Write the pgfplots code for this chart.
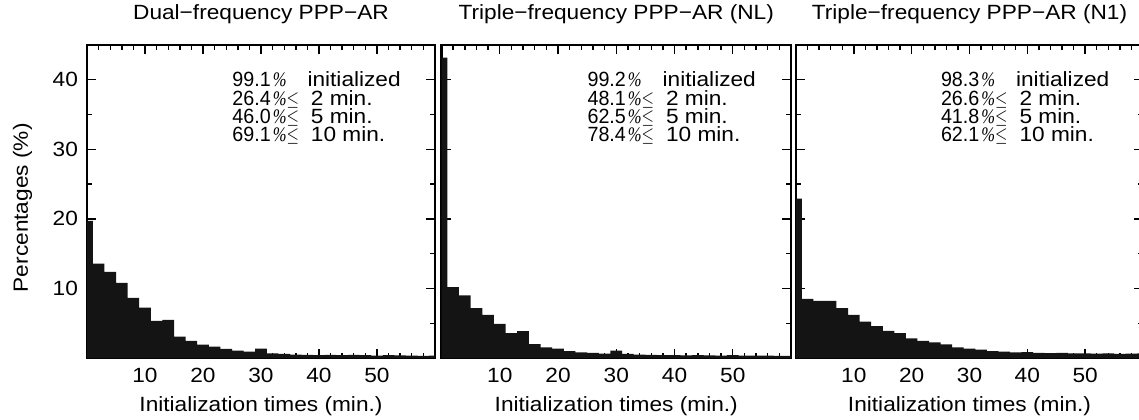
\documentclass[border=0pt]{standalone}
\usepackage{fontspec}
\setmainfont{Liberation Sans}[FakeStretch=1.1]
\newfontfamily\serf{Liberation Serif}
\usepackage{graphicx}
\usepackage{pgfplots}
\pgfplotsset{compat=1.18}
\newcommand{\fs}{\fontsize{10.3}{12}\selectfont}
\newcommand{\pc}{\hspace{1pt}{\serf\itshape\scalebox{0.8}[1]{\%}}}
\newcommand{\leqsym}{\scalebox{0.8}[1]{$\leq$}}
\newcommand{\num}[1]{\scalebox{0.87}[1]{#1}}

\pgfplotstableread{
x y
0 19.7
2 13.56
4 12.4
6 10.8
8 8.65
10 7.26
12 5.34
14 5.48
16 3.08
18 2.45
20 1.92
22 1.63
24 1.3
26 1.06
28 0.9
30 1.35
32 0.67
34 0.58
36 0.5
38 0.45
40 0.42
42 0.45
44 0.4
46 0.45
48 0.4
50 0.35
52 0.4
54 0.38
56 0.35
58 0.3
60 0.35
}\dual
\pgfplotstableread{
x y
0 43.2
2 10.2
4 9.0
6 7.16
8 6.2
10 4.9
12 3.56
14 3.85
16 2.0
18 1.54
20 1.35
22 1.0
24 0.82
26 0.72
28 0.62
30 1.05
32 0.58
34 0.5
36 0.45
38 0.42
40 0.4
42 0.38
44 0.42
46 0.38
48 0.35
50 0.4
52 0.35
54 0.33
56 0.35
58 0.3
60 0.32
}\tripnl
\pgfplotstableread{
x y
0 22.9
2 8.5
4 8.2
6 8.2
8 7.16
10 6.2
12 5.24
14 4.6
16 3.9
18 3.56
20 2.84
22 2.45
24 2.26
26 1.97
28 1.54
30 1.35
32 1.2
34 1.0
36 0.9
38 0.8
40 0.85
42 0.75
44 0.7
46 0.72
48 0.68
50 0.65
52 0.62
54 0.65
56 0.6
58 0.62
60 0.65
}\tripna

\pgfplotsset{
  panel/.style={
    scale only axis, height=156.5pt, anchor=south west,
    xmin=0, xmax=60, ymin=0, ymax=45,
    ybar, bar width=2, bar shift=0pt,
    xtick={10,20,30,40,50}, minor xtick={0,2,...,60},
    ytick={10,20,30,40}, minor ytick={5,15,25,35},
    tick align=inside,
    major tick length=4.5pt, minor tick length=2.5pt,
    axis line style={line width=1.3pt},
    every tick/.style={black, line width=0.7pt},
    /pgf/number format/assume math mode=true,
    tick label style={font=\fs},
    xticklabel style={anchor=center, yshift=-8.5pt},
    yticklabel style={xshift=-1pt},
    title style={at={(0.5,1)}, anchor=base, yshift=7pt, font=\fs},
    xlabel={Initialization times (min.)},
    xlabel style={at={(axis description cs:0.5,0)}, anchor=center, yshift=-24pt, font=\fs},
    ylabel style={font=\fs},
  },
  bars/.style={fill=black!92, draw=none},
}

\newcommand{\annot}[4]{%
  \node[anchor=base west, font=\fs, inner sep=0] at (axis description cs:0.4167,0.869) {\num{#1}\pc\hspace{10.5pt}initialized};
  \node[anchor=base west, font=\fs, inner sep=0] at (axis description cs:0.4167,0.8083) {\num{#2}\pc\leqsym\hspace{6pt}2 min.};
  \node[anchor=base west, font=\fs, inner sep=0] at (axis description cs:0.4167,0.7508) {\num{#3}\pc\leqsym\hspace{6pt}5 min.};
  \node[anchor=base west, font=\fs, inner sep=0] at (axis description cs:0.4167,0.6933) {\num{#4}\pc\leqsym\hspace{6pt}10 min.};
}

\begin{document}
\begin{tikzpicture}
\useasboundingbox (0,0) rectangle (569.5pt,209.5pt);
\begin{axis}[panel, width=174pt, at={(43.5pt,30.5pt)},
  title={Dual−frequency PPP−AR},
  ylabel={Percentages (\%)},
  ylabel style={at={(axis description cs:-0.185,0.48)}, anchor=center}]
  \addplot[bars] table[x=x,y=y] {\dual};
  \annot{99.1}{26.4}{46.0}{69.1}
\end{axis}
\begin{axis}[panel, width=174.75pt, at={(220.75pt,30.5pt)},
  title={Triple−frequency PPP−AR (NL)}, yticklabels={}]
  \addplot[bars] table[x=x,y=y] {\tripnl};
  \annot{99.2}{48.1}{62.5}{78.4}
\end{axis}
\begin{axis}[panel, width=173.5pt, at={(398pt,30.5pt)},
  title={Triple−frequency PPP−AR (N1)}, yticklabels={}]
  \addplot[bars] table[x=x,y=y] {\tripna};
  \annot{98.3}{26.6}{41.8}{62.1}
\end{axis}
\end{tikzpicture}
\end{document}
